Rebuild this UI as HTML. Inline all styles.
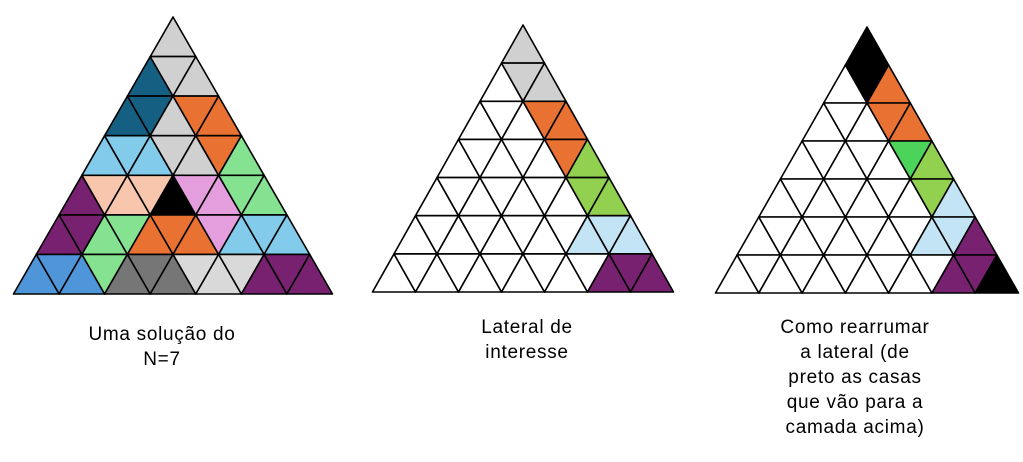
<!DOCTYPE html>
<html><head><meta charset="utf-8"><style>
body{margin:0;background:#fff;width:1023px;height:462px;overflow:hidden;position:relative;font-family:"Liberation Sans",sans-serif}
.t{position:absolute;font-size:19px;letter-spacing:0.7px;line-height:25px;text-align:center;color:#000;transform:translateX(-50%);white-space:nowrap}
</style></head><body>
<svg id="s" width="1023" height="462" style="position:absolute;left:0;top:0"></svg>
<div class="t" style="left:162px;top:322px">Uma solução do<br>N=7</div>
<div class="t" style="left:527px;top:315px">Lateral de<br>interesse</div>
<div class="t" style="left:855px;top:315px">Como rearrumar<br>a lateral (de<br>preto as casas<br>que vão para a<br>camada acima)</div>
<script>
var C={L:"#D0D0D0",D:"#156082",O:"#E97132",B:"#83CBEB",G:"#84E291",P:"#782170",E:"#F7C6AC",K:"#000",I:"#E59EDD",U:"#4E95D9",M:"#767676",N:"#D9D9D9",Y:"#92D050",Q:"#C3E4F5",V:"#4CD35A",W:"#fff"};
function tri(ax,ay,by,lx,rx,rows){
 var h=(by-ay)/7,s=(rx-lx)/7,out="";
 for(var r=0;r<7;r++){
  var y0=ay+r*h,y1=y0+h,x0=ax-r*s/2;
  for(var k=0;k<=2*r;k++){
   var c=C[rows[r][k]]||"#fff",p;
   var j=Math.floor(k/2);
   if(k%2==0){var bx=x0-s/2+j*s;p=[[bx,y1],[bx+s,y1],[bx+s/2,y0]];}
   else{var tx=x0+j*s;p=[[tx,y0],[tx+s,y0],[tx+s/2,y1]];}
   out+='<polygon points="'+p.map(function(q){return q[0].toFixed(1)+","+q[1].toFixed(1)}).join(" ")+'" fill="'+c+'" stroke="#000" stroke-width="1.6" stroke-linejoin="round"/>';
  }
 }
 return out;
}
var t1=["L","DLL","DDLOO","BBBLLOG","PEEEKIIGG","PPGGOOOIBBB","UUUGMMMNNNPPP"];
var t2=["L","WLL","WWWOO","WWWWWOY","WWWWWWWYY","WWWWWWWWQQQ","WWWWWWWWWWPPP"];
var t3=["K","WKO","WWWOO","WWWWWVY","WWWWWWWYQ","WWWWWWWWQQP","WWWWWWWWWWPPK"];
document.getElementById("s").innerHTML=tri(173,17,294,14,333,t1)+tri(523,25,292,373,674,t2)+tri(867,27,293,715,1018,t3);
</script>
</body></html>
